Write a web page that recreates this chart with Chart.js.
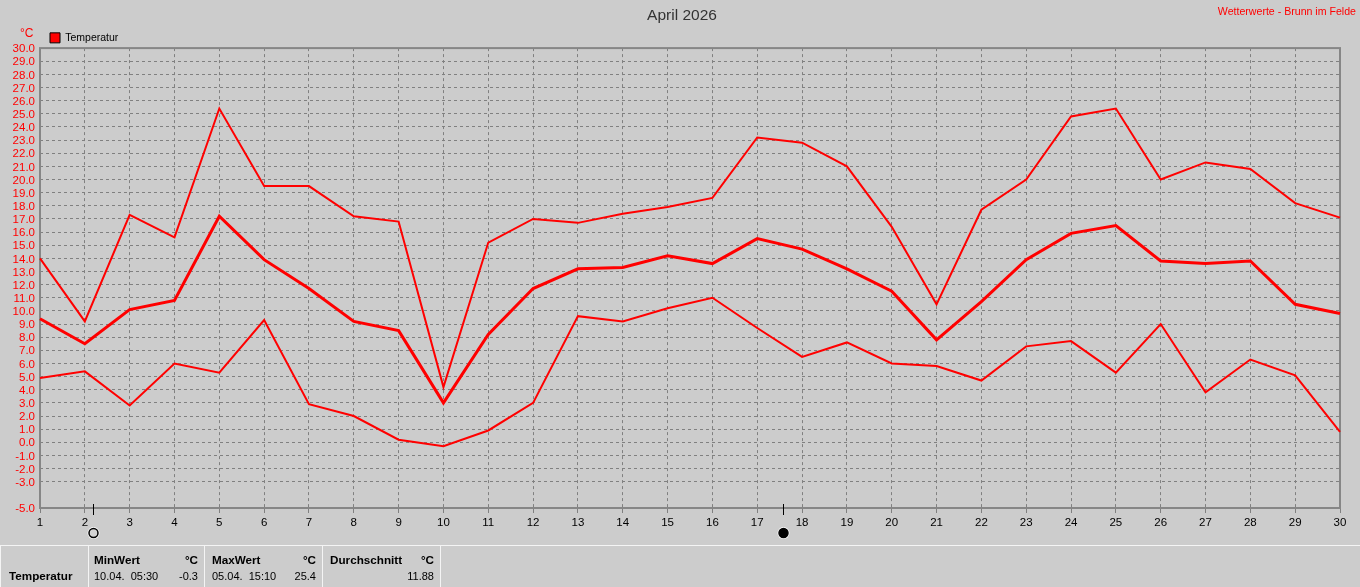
<!DOCTYPE html>
<html><head><meta charset="utf-8">
<script src="https://cdn.jsdelivr.net/npm/chart.js@4"></script>
<style>
html,body{margin:0;padding:0;background:#cccccc;overflow:hidden}
#wrap{position:relative;width:1360px;height:587px;background:#cccccc;font-family:"Liberation Sans",Arial,sans-serif}
#wrap canvas{position:absolute;left:0;top:0}
.t{position:absolute;white-space:nowrap;font-size:11px;line-height:13px;color:#000}
.b{font-weight:bold;font-size:11.7px}
.r{text-align:right}
.line{position:absolute;background:#f4f4f4}
</style></head><body>
<div id="wrap"><canvas id="c" width="1360" height="587"></canvas>
<div class="t" style="left:20px;top:27px;color:#f00;font-size:12px">°C</div>
<div class="t" style="right:4px;top:5px;color:#f00;font-size:10.6px">Wetterwerte - Brunn im Felde</div>
<div class="line" style="left:0;top:545px;width:1360px;height:1px"></div>
<div class="line" style="left:0;top:545px;width:1px;height:42px"></div>
<div class="line" style="left:88px;top:545px;width:1px;height:42px"></div>
<div class="line" style="left:204px;top:545px;width:1px;height:42px"></div>
<div class="line" style="left:322px;top:545px;width:1px;height:42px"></div>
<div class="line" style="left:440px;top:545px;width:1px;height:42px"></div>
<div class="t b" style="left:9px;top:569px">Temperatur</div>
<div class="t b" style="left:94px;top:553px">MinWert</div>
<div class="t b r" style="right:1162px;top:553px">°C</div>
<div class="t" style="left:94px;top:570px">10.04.&nbsp; 05:30</div>
<div class="t r" style="right:1162px;top:570px">-0.3</div>
<div class="t b" style="left:212px;top:553px">MaxWert</div>
<div class="t b r" style="right:1044px;top:553px">°C</div>
<div class="t" style="left:212px;top:570px">05.04.&nbsp; 15:10</div>
<div class="t r" style="right:1044px;top:570px">25.4</div>
<div class="t b" style="left:330px;top:553px">Durchschnitt</div>
<div class="t b r" style="right:926px;top:553px">°C</div>
<div class="t r" style="right:926px;top:570px">11.88</div>
</div>
<script>
const days = ["1","2","3","4","5","6","7","8","9","10","11","12","13","14","15","16","17","18","19","20","21","22","23","24","25","26","27","28","29","30"];
const maxTemp = [14.0,9.2,17.3,15.6,25.4,19.5,19.5,17.2,16.8,4.2,15.2,17.0,16.7,17.4,17.9,18.6,23.2,22.8,21.0,16.4,10.5,17.7,20.0,24.8,25.4,20.0,21.3,20.8,18.2,17.1];
const avgTemp = [9.4,7.5,10.1,10.8,17.2,13.9,11.7,9.2,8.5,3.0,8.2,11.7,13.2,13.3,14.2,13.6,15.5,14.7,13.2,11.5,7.8,10.7,13.9,15.9,16.5,13.8,13.6,13.8,10.5,9.8];
const minTemp = [4.9,5.4,2.8,6.0,5.3,9.3,2.9,2.0,0.2,-0.3,0.9,3.0,9.6,9.2,10.2,11.0,8.7,6.5,7.6,6.0,5.8,4.7,7.3,7.7,5.3,9.0,3.8,6.3,5.1,0.8];
const hiddenTicks = [-4];
const fullMoonDay = 2.19;
const newMoonDay = 17.58;

const FONT = '"Liberation Sans", Arial, sans-serif';
const frameAndMoons = {
  id:'frameAndMoons',
  afterLayout(chart){
    chart.legend.left = 45;
    chart.legend.top += 5;
    chart.titleBlock.left += 12;
    chart.titleBlock.right += 12;
    chart.titleBlock.top += 2;
    chart.titleBlock.bottom += 2;
    chart.scales.y.getLabelItems(chart.chartArea).forEach(i=>{ i.options.translation[1] += 1; });
  },
  beforeDatasetsDraw(chart){
    const {ctx,chartArea:a} = chart;
    ctx.save();
    ctx.strokeStyle='#868686'; ctx.lineWidth=2;
    ctx.strokeRect(a.left,a.top,a.right-a.left,a.bottom-a.top);
    ctx.restore();
  },
  afterDraw(chart){
    const {ctx,chartArea:a,scales:{x}} = chart;
    [[fullMoonDay,'#d4d4d4'],[newMoonDay,'#000000']].forEach(([d,fill])=>{
      const px = Math.round(x.getPixelForValue(d-1))+0.5;
      ctx.save();
      ctx.strokeStyle='#000'; ctx.lineWidth=1;
      ctx.beginPath(); ctx.moveTo(px,a.bottom-4); ctx.lineTo(px,a.bottom+7); ctx.stroke();
      ctx.beginPath(); ctx.arc(px,a.bottom+25,6,0,Math.PI*2); ctx.fillStyle='#fff'; ctx.fill();
      ctx.beginPath(); ctx.arc(px,a.bottom+25,4.5,0,Math.PI*2); ctx.fillStyle=fill; ctx.fill();
      ctx.strokeStyle='#000'; ctx.lineWidth=1.5; ctx.stroke();
      ctx.restore();
    });
  }
};
const lineDs = (label,data,w)=>({label,data,borderColor:'#ff0000',backgroundColor:'#ff0000',borderWidth:w,pointRadius:0,tension:0,borderJoinStyle:'miter'});
new Chart(document.getElementById('c'),{
  type:'line',
  data:{labels:days,datasets:[lineDs('Max',maxTemp,2),lineDs('Mittel',avgTemp,3),lineDs('Min',minTemp,2)]},
  plugins:[frameAndMoons],
  options:{
    responsive:false,animation:false,devicePixelRatio:1,
    layout:{padding:{left:0,right:20,top:0,bottom:0}},
    plugins:{
      tooltip:{enabled:false},
      title:{display:true,text:'April 2026',color:'#333333',font:{family:FONT,size:15.5,weight:'normal'},padding:{top:4,bottom:0}},
      legend:{display:true,position:'top',align:'start',
        labels:{boxWidth:10,boxHeight:10,padding:5,color:'#000',font:{family:FONT,size:10.5},
          generateLabels:()=>[{text:'Temperatur',fillStyle:'#ff0000',strokeStyle:'#000000',lineWidth:1,hidden:false,datasetIndex:0}]},
        onClick:null}
    },
    scales:{
      x:{type:'category',offset:false,
        afterFit(s){s.height=79;},
        grid:{color:'#808080',lineWidth:1,tickLength:5,tickColor:'#808080',drawOnChartArea:true},
        border:{display:false,dash:[3,3]},
        ticks:{color:'#000',font:{family:FONT,size:11.5},autoSkip:false,maxRotation:0,minRotation:0,padding:3}},
      y:{type:'linear',min:-5,max:30,
        afterFit(s){s.width=40;},
        grid:{color:c=>hiddenTicks.includes(c.tick.value)?'rgba(0,0,0,0)':'#808080',lineWidth:1,drawTicks:false},
        border:{display:false,dash:[3,3]},
        ticks:{stepSize:1,autoSkip:false,color:'#ff0000',padding:5,font:{family:FONT,size:11.5},
          callback:v=>hiddenTicks.includes(v)?'':v.toFixed(1)}}
    }
  }
});
</script></body></html>
